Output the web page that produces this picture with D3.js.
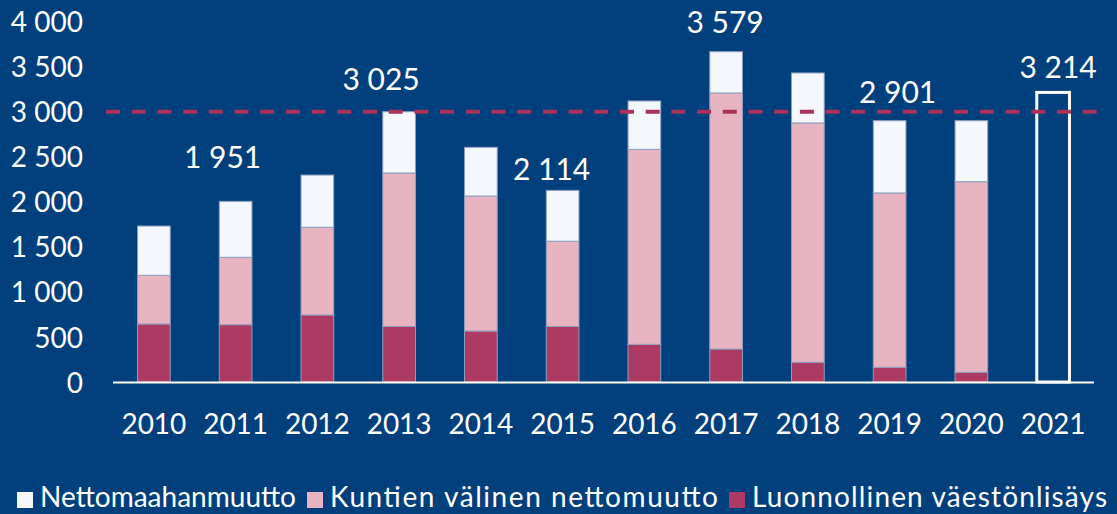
<!DOCTYPE html>
<html>
<head>
<meta charset="utf-8">
<script src="https://cdn.jsdelivr.net/npm/d3@7"></script>
<style>
  body { margin: 0; background: #01407C; }
  svg { display: block; }
</style>
</head>
<body>
<script>
/**
 * Data
 */
const YEARS = ["2010", "2011", "2012", "2013", "2014", "2015",
               "2016", "2017", "2018", "2019", "2020", "2021"];

// stacked from the bottom up
const LUONNOLLINEN = [644, 636, 744, 616, 566, 616, 418, 366, 219, 163, 108];
const KUNTIEN = [540, 748, 973, 1704, 1498, 946, 2164, 2842, 2656, 1935, 2115];
const NETTOMAAHAN = [547, 621, 580, 680, 541, 565, 537, 458, 555, 802, 677];

// 2021 is only an empty outlined bar
const TARGET_YEAR = "2021";
const TARGET_VALUE = 3214;

// dashed reference line
const REF_LINE = 3000;

// value labels above some bars
const LABEL_YEARS = ["2011", "2013", "2015", "2017", "2019", "2021"];
const LABEL_VALUES = [1951, 3025, 2114, 3579, 2901, 3214];

const Y_TICKS = [0, 500, 1000, 1500, 2000, 2500, 3000, 3500, 4000];

const SERIES_NAMES = ["Nettomaahanmuutto", "Kuntien välinen nettomuutto", "Luonnollinen väestönlisäys"];

/**
 * Layout / style
 */
const WIDTH = 1117;
const HEIGHT = 514;
const BG = "#01407C";
const COLORS = {
    white: "#F4F7FC",
    pink: "#E9B4C2",
    dark: "#AC3A62",
    line: "#A8325A"
};
const FONT = "Lato, 'Open Sans', sans-serif";

// where each value label sits, relative to its bar (px, px above bar top)
const LABEL_DX = [-13, -18, -11, -1, 8, 5];
const LABEL_RAISE = [33, 22, 10, 19, 18, 14];

// legend text widths in the original (its font runs wider than Lato)
const LEGEND_TEXT_W = [256, 388, 355];

const fmt = d3.formatLocale({ decimal: ",", thousands: " ", grouping: [3], currency: ["", "€"] }).format(",d");

const svg = d3.select("body").append("svg")
    .attr("width", WIDTH)
    .attr("height", HEIGHT);

svg.append("rect")
    .attr("width", WIDTH)
    .attr("height", HEIGHT)
    .attr("fill", BG);

const x = d3.scaleBand()
    .domain(YEARS)
    .range([113, 1094])
    .paddingInner(0.6)
    .paddingOuter(0.3);

const y = d3.scaleLinear()
    .domain([0, 4000])
    .range([382, 21.6]);

// stacked bars
const rows = LUONNOLLINEN.map((d, i) => ({
    year: YEARS[i],
    dark: d,
    pink: KUNTIEN[i],
    white: NETTOMAAHAN[i]
}));

const stack = d3.stack().keys(["dark", "pink", "white"]);
const layers = stack(rows);

svg.append("g")
    .selectAll("g")
    .data(layers)
    .join("g")
    .attr("fill", d => COLORS[d.key])
    .selectAll("rect")
    .data(d => d)
    .join("rect")
    .attr("x", d => x(d.data.year))
    .attr("width", x.bandwidth())
    .attr("y", d => y(d[1]))
    .attr("height", d => y(d[0]) - y(d[1]))
    .attr("stroke", "#8E9FBE")
    .attr("stroke-width", 1);

// empty 2021 bar
svg.append("rect")
    .attr("x", x(TARGET_YEAR))
    .attr("width", x.bandwidth())
    .attr("y", y(TARGET_VALUE))
    .attr("height", y(0) - y(TARGET_VALUE))
    .attr("fill", "none")
    .attr("stroke", "white")
    .attr("stroke-width", 3);

// x axis line
svg.append("line")
    .attr("x1", x.range()[0])
    .attr("x2", x.range()[1])
    .attr("y1", y(0) + 0.5)
    .attr("y2", y(0) + 0.5)
    .attr("stroke", "white")
    .attr("stroke-width", 2);

// dashed reference line
svg.append("line")
    .attr("x1", 106)
    .attr("x2", 1100)
    .attr("y1", y(REF_LINE))
    .attr("y2", y(REF_LINE))
    .attr("stroke", COLORS.line)
    .attr("stroke-width", 4)
    .attr("stroke-dasharray", "14 11.7");

// y axis labels
const yAxis = svg.append("g")
    .attr("transform", "translate(83,0)")
    .call(d3.axisLeft(y).tickValues(Y_TICKS).tickFormat(fmt).tickSize(0).tickPadding(0));
yAxis.select(".domain").remove();
yAxis.selectAll("text")
    .attr("fill", "white")
    .attr("font-family", FONT)
    .attr("font-size", 28)
    .attr("dy", "0.36em");

// x axis labels
const xAxis = svg.append("g")
    .attr("transform", `translate(0,${y(0)})`)
    .call(d3.axisBottom(x).tickSize(0).tickPadding(0));
xAxis.select(".domain").remove();
xAxis.selectAll("text")
    .attr("fill", "white")
    .attr("font-family", FONT)
    .attr("font-size", 28)
    .attr("dy", 0)
    .attr("y", 52);

// value labels
const tops = {};
rows.forEach(r => tops[r.year] = r.dark + r.pink + r.white);
tops[TARGET_YEAR] = TARGET_VALUE;

svg.append("g")
    .selectAll("text")
    .data(LABEL_YEARS)
    .join("text")
    .attr("x", (d, i) => x(d) + x.bandwidth() / 2 + LABEL_DX[i])
    .attr("y", (d, i) => y(tops[d]) - LABEL_RAISE[i])
    .attr("text-anchor", "middle")
    .attr("fill", "white")
    .attr("font-family", FONT)
    .attr("font-size", 30)
    .text((d, i) => fmt(LABEL_VALUES[i]));

// legend
const legendColors = [COLORS.white, COLORS.pink, COLORS.dark];
const legend = svg.append("g");
let lx = 17;
SERIES_NAMES.forEach((name, i) => {
    legend.append("rect")
        .attr("x", lx)
        .attr("y", 492)
        .attr("width", 16)
        .attr("height", 16)
        .attr("fill", legendColors[i]);
    legend.append("text")
        .attr("x", lx + 23)
        .attr("y", 507)
        .attr("fill", "white")
        .attr("font-family", FONT)
        .attr("font-size", 28)
        .attr("textLength", LEGEND_TEXT_W[i])
        .attr("lengthAdjust", "spacing")
        .text(name);
    lx += 23 + LEGEND_TEXT_W[i] + 11;
});
</script>
</body>
</html>
